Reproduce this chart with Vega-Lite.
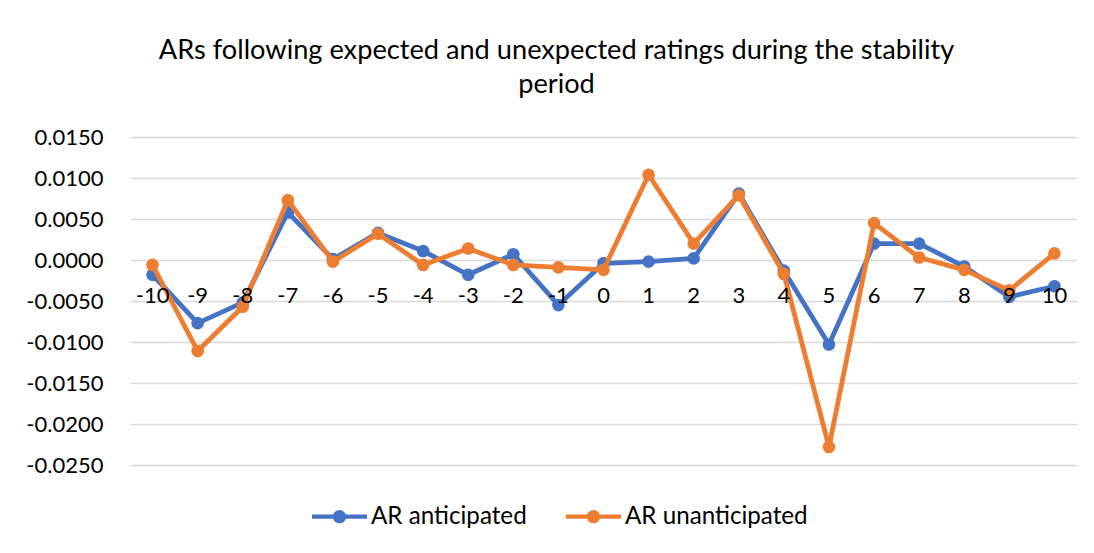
{
  "$schema": "https://vega.github.io/schema/vega-lite/v6.json",
  "autosize": {"type": "none"},
  "width": 947,
  "height": 328,
  "padding": {"left": 130, "top": 137, "right": 17, "bottom": 88},
  "background": "white",
  "config": {
    "font": "Lato",
    "view": {"stroke": null}
  },
  "title": {
    "text": ["ARs following expected and unexpected ratings during the stability", "period"],
    "anchor": "middle",
    "frame": "group",
    "dx": -47,
    "offset": 27,
    "fontSize": 27.2,
    "fontWeight": "normal",
    "font": "Lato",
    "color": "#000000",
    "lineHeight": 34
  },
  "data": {
    "values": [
      {"t": -10, "series": "AR anticipated", "ar": -0.0018},
      {"t": -9, "series": "AR anticipated", "ar": -0.0077},
      {"t": -8, "series": "AR anticipated", "ar": -0.0052},
      {"t": -7, "series": "AR anticipated", "ar": 0.0058},
      {"t": -6, "series": "AR anticipated", "ar": 0.0001},
      {"t": -5, "series": "AR anticipated", "ar": 0.0033},
      {"t": -4, "series": "AR anticipated", "ar": 0.0011},
      {"t": -3, "series": "AR anticipated", "ar": -0.0018},
      {"t": -2, "series": "AR anticipated", "ar": 0.0007},
      {"t": -1, "series": "AR anticipated", "ar": -0.0055},
      {"t": 0, "series": "AR anticipated", "ar": -0.0004},
      {"t": 1, "series": "AR anticipated", "ar": -0.0002},
      {"t": 2, "series": "AR anticipated", "ar": 0.0002},
      {"t": 3, "series": "AR anticipated", "ar": 0.0081},
      {"t": 4, "series": "AR anticipated", "ar": -0.0013},
      {"t": 5, "series": "AR anticipated", "ar": -0.0103},
      {"t": 6, "series": "AR anticipated", "ar": 0.0020},
      {"t": 7, "series": "AR anticipated", "ar": 0.0020},
      {"t": 8, "series": "AR anticipated", "ar": -0.0008},
      {"t": 9, "series": "AR anticipated", "ar": -0.0045},
      {"t": 10, "series": "AR anticipated", "ar": -0.0032},
      {"t": -10, "series": "AR unanticipated", "ar": -0.0006},
      {"t": -9, "series": "AR unanticipated", "ar": -0.0111},
      {"t": -8, "series": "AR unanticipated", "ar": -0.0057},
      {"t": -7, "series": "AR unanticipated", "ar": 0.0073},
      {"t": -6, "series": "AR unanticipated", "ar": -0.0002},
      {"t": -5, "series": "AR unanticipated", "ar": 0.0032},
      {"t": -4, "series": "AR unanticipated", "ar": -0.0006},
      {"t": -3, "series": "AR unanticipated", "ar": 0.0014},
      {"t": -2, "series": "AR unanticipated", "ar": -0.0006},
      {"t": -1, "series": "AR unanticipated", "ar": -0.0009},
      {"t": 0, "series": "AR unanticipated", "ar": -0.0012},
      {"t": 1, "series": "AR unanticipated", "ar": 0.0104},
      {"t": 2, "series": "AR unanticipated", "ar": 0.0020},
      {"t": 3, "series": "AR unanticipated", "ar": 0.0079},
      {"t": 4, "series": "AR unanticipated", "ar": -0.0017},
      {"t": 5, "series": "AR unanticipated", "ar": -0.0228},
      {"t": 6, "series": "AR unanticipated", "ar": 0.0045},
      {"t": 7, "series": "AR unanticipated", "ar": 0.0003},
      {"t": 8, "series": "AR unanticipated", "ar": -0.0012},
      {"t": 9, "series": "AR unanticipated", "ar": -0.0037},
      {"t": 10, "series": "AR unanticipated", "ar": 0.0008}
    ]
  },
  "encoding": {
    "x": {"field": "t", "type": "quantitative", "scale": {"domain": [-10.5, 10.5], "nice": false, "zero": false}, "axis": null},
    "y": {
      "field": "ar",
      "type": "quantitative",
      "scale": {"domain": [-0.025, 0.015], "nice": false, "zero": false},
      "axis": {
        "title": null,
        "values": [-0.025, -0.02, -0.015, -0.01, -0.005, 0, 0.005, 0.01, 0.015],
        "labelExpr": "replace(format(datum.value, '.4f'), '\u2212', '-')",
        "grid": true,
        "gridColor": "#d9d9d9",
        "gridWidth": 1.5,
        "ticks": false,
        "domain": false,
        "labelPadding": 27,
        "labelFontSize": 22,
        "labelFont": "Lato",
        "labelColor": "#000000"
      }
    },
    "color": {
      "field": "series",
      "type": "nominal",
      "scale": {"domain": ["AR anticipated", "AR unanticipated"], "range": ["#4472C4", "#ED7D31"]},
      "legend": {
        "title": null,
        "orient": "none",
        "direction": "horizontal",
        "legendX": 182,
        "legendY": 352,
        "padding": 0,
        "symbolType": "M-1,-0.08L1,-0.08L1,0.08L-1,0.08Z M0.24,0A0.24,0.24,0,1,1,-0.24,0A0.24,0.24,0,1,1,0.24,0Z",
        "symbolSize": 3025,
        "symbolStrokeWidth": 0,
        "symbolOpacity": 1,
        "labelFontSize": 24.2,
        "labelFont": "Lato",
        "labelColor": "#000000",
        "labelOffset": 4,
        "columnPadding": 39,
        "labelLimit": 400,
        "encode": {
          "symbols": {"update": {"fill": {"scale": "color", "field": "value"}, "stroke": {"value": "transparent"}, "opacity": {"value": 1}}}
        }
      }
    }
  },
  "layer": [
    {
      "transform": [{"filter": "datum.series === 'AR anticipated'"}],
      "mark": {"type": "line", "strokeWidth": 4.8, "strokeCap": "round", "strokeJoin": "round"}
    },
    {
      "transform": [{"filter": "datum.series === 'AR anticipated'"}],
      "mark": {"type": "point", "filled": true, "size": 160, "opacity": 1, "shape": "circle"}
    },
    {
      "transform": [{"filter": "datum.series === 'AR unanticipated'"}],
      "mark": {"type": "line", "strokeWidth": 4.8, "strokeCap": "round", "strokeJoin": "round"}
    },
    {
      "transform": [{"filter": "datum.series === 'AR unanticipated'"}],
      "mark": {"type": "point", "filled": true, "size": 160, "opacity": 1, "shape": "circle"}
    },
    {
      "transform": [{"filter": "datum.series === 'AR anticipated'"}],
      "mark": {"type": "text", "fontSize": 22, "font": "Lato", "color": "#000000", "baseline": "alphabetic", "dy": 43},
      "encoding": {
        "y": {"datum": 0},
        "color": {"value": "#000000"},
        "text": {"field": "t", "type": "nominal"}
      }
    }
  ]
}
